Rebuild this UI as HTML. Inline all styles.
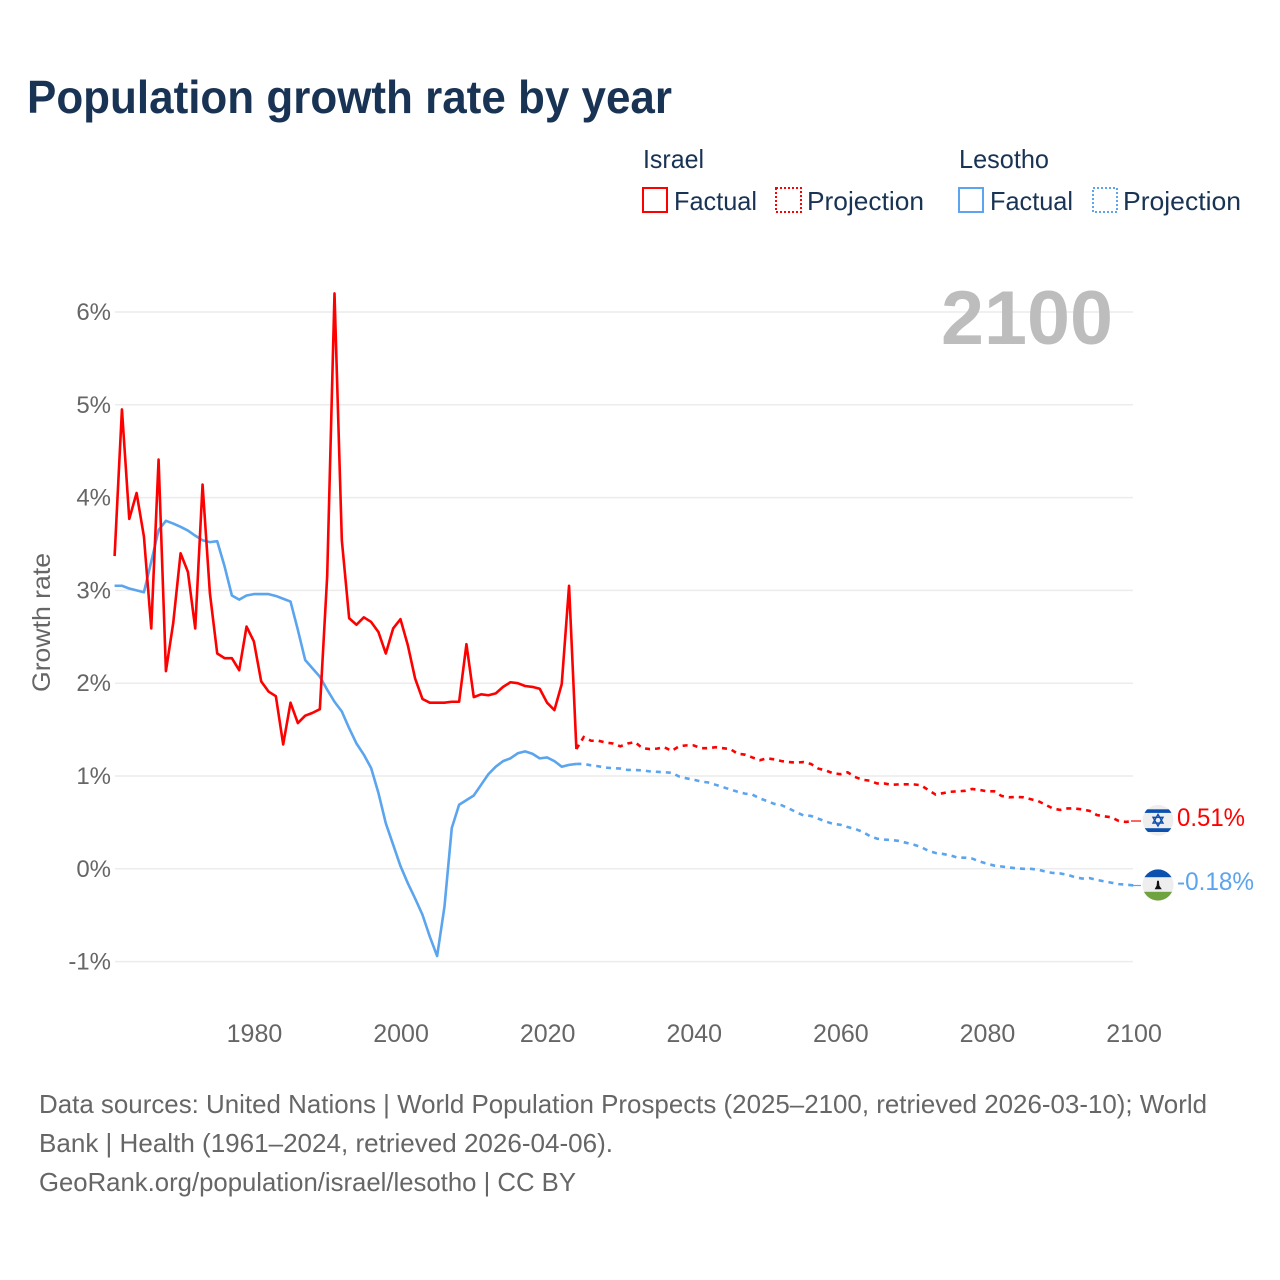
<!DOCTYPE html>
<html lang="en">
<head>
<meta charset="utf-8">
<title>Population growth rate by year</title>
<style>
html,body{margin:0;padding:0;background:#fff;}
svg{display:block;font-family:"Liberation Sans",sans-serif;}
</style>
</head>
<body>
<svg id="chart" xmlns="http://www.w3.org/2000/svg" width="1280" height="1280" viewBox="0 0 1280 1280">
<defs>
<clipPath id="clip-israel"><circle cx="1158" cy="820.3" r="15.4"/></clipPath>
<clipPath id="clip-lesotho"><circle cx="1158" cy="885" r="15.6"/></clipPath>
</defs>
<rect x="0" y="0" width="1280" height="1280" fill="#ffffff"/>
<text x="27" y="113" font-size="46" font-weight="700" fill="#193354" textLength="645" lengthAdjust="spacingAndGlyphs">Population growth rate by year</text>

<g font-size="26" fill="#193354">
<text x="643" y="168" textLength="61" lengthAdjust="spacingAndGlyphs">Israel</text>
<text x="959" y="168" textLength="90" lengthAdjust="spacingAndGlyphs">Lesotho</text>
<rect x="643" y="188" width="24" height="24" fill="none" stroke="#ff0000" stroke-width="2"/>
<text x="674" y="210" textLength="83" lengthAdjust="spacingAndGlyphs">Factual</text>
<rect x="776" y="188" width="25" height="24" fill="none" stroke="#ff0000" stroke-width="2" stroke-dasharray="2 2"/>
<text x="807" y="210" textLength="117" lengthAdjust="spacingAndGlyphs">Projection</text>
<rect x="959" y="188" width="24" height="24" fill="none" stroke="#5ba4ee" stroke-width="2"/>
<text x="990" y="210" textLength="83" lengthAdjust="spacingAndGlyphs">Factual</text>
<rect x="1093" y="188" width="24" height="24" fill="none" stroke="#5ba4ee" stroke-width="2" stroke-dasharray="2 2"/>
<text x="1123" y="210" textLength="118" lengthAdjust="spacingAndGlyphs">Projection</text>
</g>

<g id="grid"></g>
<text x="941" y="344" font-size="76" font-weight="700" fill="#bdbdbd" textLength="172" lengthAdjust="spacingAndGlyphs">2100</text>
<g id="yticks" font-size="24" fill="#666666"></g>
<g id="xticks" font-size="25" fill="#666666"></g>
<text transform="translate(50 622.5) rotate(-90)" text-anchor="middle" font-size="25" fill="#666666" textLength="139" lengthAdjust="spacingAndGlyphs">Growth rate</text>
<g id="series"></g>

<g clip-path="url(#clip-israel)">
<rect x="1142" y="804" width="32" height="33" fill="#eeeeee"/>
<rect x="1142" y="809.3" width="32" height="3.6" fill="#0b50ae"/>
<rect x="1142" y="828.2" width="32" height="3.8" fill="#0b50ae"/>
<path d="M1158 814.4 L1163 823.1 H1153 Z M1158 826 L1153 817.3 H1163 Z" fill="none" stroke="#0b50ae" stroke-width="1.4"/>
</g>
<g clip-path="url(#clip-lesotho)">
<rect x="1142" y="869" width="32" height="32" fill="#eeeeee"/>
<rect x="1142" y="869" width="32" height="8.2" fill="#0b50ae"/>
<rect x="1142" y="891.8" width="32" height="9.5" fill="#6fa33f"/>
<path d="M1157.1 880.8 H1158.9 L1159.4 885.8 L1161.8 889.2 H1154.6 L1156.6 885.8 Z" fill="#111111"/>
</g>
<text id="label-israel" x="1177" y="826" font-size="25" fill="#ff0000" textLength="68" lengthAdjust="spacingAndGlyphs"></text>
<text id="label-lesotho" x="1177" y="890" font-size="25" fill="#5ba4ee" textLength="77" lengthAdjust="spacingAndGlyphs"></text>

<g font-size="26" fill="#666666">
<text x="39" y="1113" textLength="1168" lengthAdjust="spacingAndGlyphs">Data sources: United Nations | World Population Prospects (2025–2100, retrieved 2026-03-10); World</text>
<text x="39" y="1152" textLength="574" lengthAdjust="spacingAndGlyphs">Bank | Health (1961–2024, retrieved 2026-04-06).</text>
<text x="39" y="1191" textLength="537" lengthAdjust="spacingAndGlyphs">GeoRank.org/population/israel/lesotho | CC BY</text>
</g>
</svg>
<script>
const factualYears = [1961,1962,1963,1964,1965,1966,1967,1968,1969,1970,1971,1972,1973,1974,1975,1976,1977,1978,1979,1980,1981,1982,1983,1984,1985,1986,1987,1988,1989,1990,1991,1992,1993,1994,1995,1996,1997,1998,1999,2000,2001,2002,2003,2004,2005,2006,2007,2008,2009,2010,2011,2012,2013,2014,2015,2016,2017,2018,2019,2020,2021,2022,2023,2024];
const israelFactual = [3.37,4.95,3.77,4.05,3.58,2.59,4.41,2.13,2.65,3.40,3.20,2.59,4.14,2.97,2.32,2.27,2.27,2.14,2.61,2.45,2.02,1.91,1.86,1.34,1.79,1.57,1.65,1.68,1.72,3.15,6.20,3.54,2.70,2.63,2.71,2.66,2.55,2.32,2.59,2.69,2.41,2.05,1.83,1.79,1.79,1.79,1.80,1.80,2.42,1.85,1.88,1.87,1.89,1.96,2.01,2.00,1.97,1.96,1.94,1.79,1.71,1.99,3.05,1.29];
const lesothoFactual = [3.05,3.05,3.02,3.00,2.98,3.31,3.65,3.75,3.72,3.685,3.645,3.59,3.54,3.52,3.53,3.26,2.945,2.90,2.945,2.96,2.96,2.96,2.94,2.91,2.88,2.575,2.25,2.16,2.07,1.93,1.80,1.695,1.515,1.35,1.23,1.085,0.815,0.49,0.26,0.03,-0.155,-0.32,-0.495,-0.73,-0.94,-0.41,0.44,0.69,0.74,0.79,0.905,1.02,1.10,1.16,1.19,1.245,1.265,1.24,1.19,1.20,1.16,1.10,1.12,1.13];
const projectionYears = [2024,2025,2026,2027,2028,2029,2030,2031,2032,2033,2034,2035,2036,2037,2038,2039,2040,2041,2042,2043,2044,2045,2046,2047,2048,2049,2050,2051,2052,2053,2054,2055,2056,2057,2058,2059,2060,2061,2062,2063,2064,2065,2066,2067,2068,2069,2070,2071,2072,2073,2074,2075,2076,2077,2078,2079,2080,2081,2082,2083,2084,2085,2086,2087,2088,2089,2090,2091,2092,2093,2094,2095,2096,2097,2098,2099,2100];
const israelProjection = [1.29,1.42,1.38,1.38,1.36,1.35,1.32,1.35,1.365,1.30,1.29,1.295,1.31,1.27,1.32,1.33,1.33,1.30,1.30,1.31,1.30,1.29,1.24,1.23,1.20,1.17,1.19,1.18,1.16,1.15,1.145,1.15,1.13,1.08,1.06,1.03,1.02,1.04,0.99,0.96,0.95,0.92,0.92,0.905,0.91,0.91,0.91,0.90,0.85,0.80,0.815,0.83,0.835,0.84,0.86,0.85,0.835,0.835,0.785,0.77,0.775,0.77,0.75,0.73,0.69,0.65,0.635,0.65,0.65,0.64,0.625,0.58,0.565,0.555,0.515,0.505,0.515];
const lesothoProjection = [1.13,1.13,1.115,1.105,1.09,1.085,1.08,1.065,1.065,1.06,1.05,1.045,1.04,1.035,0.995,0.975,0.96,0.94,0.93,0.905,0.88,0.855,0.83,0.81,0.80,0.76,0.73,0.70,0.685,0.65,0.61,0.575,0.57,0.54,0.51,0.485,0.475,0.45,0.43,0.40,0.355,0.325,0.315,0.31,0.30,0.28,0.26,0.235,0.195,0.17,0.16,0.145,0.12,0.12,0.11,0.08,0.055,0.035,0.025,0.015,0.005,0,0,-0.01,-0.03,-0.045,-0.05,-0.065,-0.09,-0.105,-0.10,-0.12,-0.135,-0.15,-0.165,-0.17,-0.18];
const yTickValues = [-1,0,1,2,3,4,5,6];
const yTickLabels = ["-1%","0%","1%","2%","3%","4%","5%","6%"];
const xTickValues = [1980,2000,2020,2040,2060,2080,2100];
const xTickLabels = ["1980","2000","2020","2040","2060","2080","2100"];
const endLabelIsrael = "0.51%";
const endLabelLesotho = "-0.18%";

const NS = "http://www.w3.org/2000/svg";
const xScale = function (year) { return 114.6 + (year - 1961) * 7.33; };
const axisX = function (year) { return 115.7 + (year - 1961) * 7.33; };
const yScale = function (value) { return 868.8 - value * 92.8; };
const RED = "#ff0000";
const BLUE = "#5ba4ee";
const FLAG_EDGE = 1141;
const LEADER_START = 1131;

function pointsFor(years, values) {
  return years.map(function (year, i) {
    return xScale(year).toFixed(2) + "," + yScale(values[i]).toFixed(2);
  }).join(" ");
}

const grid = document.getElementById("grid");
const yticks = document.getElementById("yticks");
const xticks = document.getElementById("xticks");
const series = document.getElementById("series");

yTickValues.forEach(function (value, i) {
  const line = document.createElementNS(NS, "line");
  
  
  line.setAttribute("x1", 115);
  line.setAttribute("x2", 1133);
  line.setAttribute("y1", yScale(value));
  line.setAttribute("y2", yScale(value));
  line.setAttribute("stroke", "#ececec");
  line.setAttribute("stroke-width", "1.5");
  grid.appendChild(line);

  const label = document.createElementNS(NS, "text");
  
  
  label.setAttribute("x", 111);
  label.setAttribute("y", yScale(value) + 8);
  label.setAttribute("text-anchor", "end");
  label.textContent = yTickLabels[i];
  yticks.appendChild(label);
});

xTickValues.forEach(function (year, i) {
  const label = document.createElementNS(NS, "text");
  
  
  label.setAttribute("x", axisX(year) - 0.5);
  label.setAttribute("y", 1042);
  label.setAttribute("text-anchor", "middle");
  label.textContent = xTickLabels[i];
  xticks.appendChild(label);
});

const lesothoProjectionLine = document.createElementNS(NS, "polyline");


lesothoProjectionLine.setAttribute("points", pointsFor(projectionYears, lesothoProjection));
lesothoProjectionLine.setAttribute("fill", "none");
lesothoProjectionLine.setAttribute("stroke", BLUE);
lesothoProjectionLine.setAttribute("stroke-width", "2.6");
lesothoProjectionLine.setAttribute("stroke-dasharray", "5 5");
series.appendChild(lesothoProjectionLine);

const israelProjectionLine = document.createElementNS(NS, "polyline");


israelProjectionLine.setAttribute("points", pointsFor(projectionYears, israelProjection));
israelProjectionLine.setAttribute("fill", "none");
israelProjectionLine.setAttribute("stroke", RED);
israelProjectionLine.setAttribute("stroke-width", "2.6");
israelProjectionLine.setAttribute("stroke-dasharray", "5 5");
series.appendChild(israelProjectionLine);

const lesothoFactualLine = document.createElementNS(NS, "polyline");


lesothoFactualLine.setAttribute("points", pointsFor(factualYears, lesothoFactual));
lesothoFactualLine.setAttribute("fill", "none");
lesothoFactualLine.setAttribute("stroke", BLUE);
lesothoFactualLine.setAttribute("stroke-width", "2.6");
lesothoFactualLine.setAttribute("stroke-linejoin", "round");
series.appendChild(lesothoFactualLine);

const israelFactualLine = document.createElementNS(NS, "polyline");


israelFactualLine.setAttribute("points", pointsFor(factualYears, israelFactual));
israelFactualLine.setAttribute("fill", "none");
israelFactualLine.setAttribute("stroke", RED);
israelFactualLine.setAttribute("stroke-width", "2.6");
israelFactualLine.setAttribute("stroke-linejoin", "round");
series.appendChild(israelFactualLine);

const israelLeader = document.createElementNS(NS, "line");


israelLeader.setAttribute("x1", LEADER_START);
israelLeader.setAttribute("x2", FLAG_EDGE);
israelLeader.setAttribute("y1", yScale(israelProjection[israelProjection.length - 1]));
israelLeader.setAttribute("y2", yScale(israelProjection[israelProjection.length - 1]));
israelLeader.setAttribute("stroke", RED);
israelLeader.setAttribute("stroke-width", "1.2");
series.appendChild(israelLeader);

const lesothoLeader = document.createElementNS(NS, "line");


lesothoLeader.setAttribute("x1", LEADER_START);
lesothoLeader.setAttribute("x2", FLAG_EDGE);
lesothoLeader.setAttribute("y1", yScale(lesothoProjection[lesothoProjection.length - 1]));
lesothoLeader.setAttribute("y2", yScale(lesothoProjection[lesothoProjection.length - 1]));
lesothoLeader.setAttribute("stroke", BLUE);
lesothoLeader.setAttribute("stroke-width", "1.2");
series.appendChild(lesothoLeader);

document.getElementById("label-israel").textContent = endLabelIsrael;
document.getElementById("label-lesotho").textContent = endLabelLesotho;
</script>
</body>
</html>
